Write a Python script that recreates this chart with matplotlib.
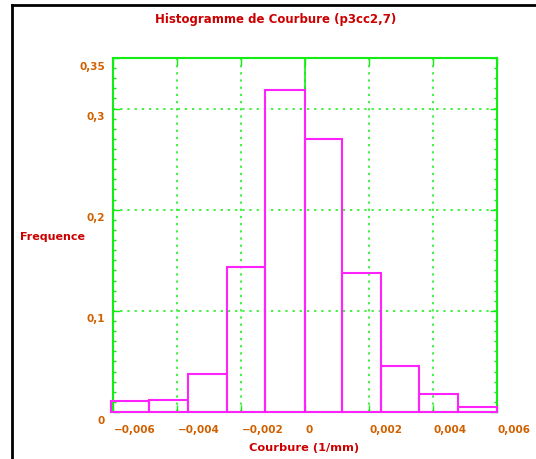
import numpy as np
import matplotlib
matplotlib.use('Agg')
import matplotlib.pyplot as plt
import matplotlib.transforms as mtransforms
from matplotlib.lines import Line2D
from matplotlib.ticker import MultipleLocator

# data
bin_edges = [-0.00607, -0.00486, -0.00366, -0.00245, -0.00125, 0.0,
             0.00116, 0.00237, 0.00357, 0.00478, 0.00599]
freq = [0.0105, 0.0118, 0.0371, 0.143, 0.3187, 0.2702, 0.1377, 0.0456, 0.0177, 0.0046]

xticks = [-0.006, -0.004, -0.002, 0, 0.002, 0.004, 0.006]
xtick_labels = ['\u22120,006', '\u22120,004', '\u22120,002', '0', '0,002', '0,004', '0,006']
yticks = [0, 0.1, 0.2, 0.3, 0.35]
ytick_labels = ['0', '0,1', '0,2', '0,3', '0,35']

green = '#11ee11'
magenta = '#ff22ff'
red = '#cc0000'
orange = '#d06000'

W, H = 536, 459
fig = plt.figure(figsize=(W / 100, H / 100), dpi=100)
ax = fig.add_axes([113 / W, 47 / H, 384 / W, 354 / H])
ax.set_xlim(-0.006, 0.006)
ax.set_ylim(0, 0.35)

for s in ax.spines.values():
    s.set_color(green)
    s.set_linewidth(1.5)

ax.set_xticks(xticks)
ax.set_yticks(yticks)
ax.yaxis.set_minor_locator(MultipleLocator(0.01))
ax.tick_params(which='both', direction='in', top=True, right=True, colors=green,
               labelbottom=False, labelleft=False, width=1)
ax.tick_params(which='major', length=5)
ax.tick_params(which='minor', length=2)

ax.grid(True, color=green, linestyle=(0, (1.5, 3.2)), linewidth=1.1)
ax.axvline(0, color=green, lw=1.2, zorder=2)

edges = np.array(bin_edges)
ax.bar(edges[:-1], freq, width=np.diff(edges), align='edge', facecolor='none',
       edgecolor=magenta, linewidth=1.5, zorder=3, clip_on=False)

fnt = dict(family='DejaVu Sans', fontweight='bold')
for v, lab in zip(xticks, xtick_labels):
    tr = mtransforms.offset_copy(ax.get_xaxis_transform(), fig=fig, x=1, y=-18, units='dots')
    ax.text(v, 0, lab, transform=tr, ha='left', va='center', color=orange, fontsize=7.5, **fnt)
for v, lab in zip(yticks, ytick_labels):
    tr = mtransforms.offset_copy(ax.get_yaxis_transform(), fig=fig, x=-8, y=-8.5, units='dots')
    ax.text(0, v, lab, transform=tr, ha='right', va='center', color=orange, fontsize=7.5, **fnt)

fig.text(276 / W, 1 - 20 / H, 'Histogramme de Courbure (p3cc2,7)', ha='center', va='center',
         color=red, fontsize=8.5, **fnt)
fig.text(20 / W, 1 - 237 / H, 'Frequence', ha='left', va='center', color=red, fontsize=8, **fnt)
fig.text(304 / W, 1 - 448 / H, 'Courbure (1/mm)', ha='center', va='center', color=red,
         fontsize=8.2, **fnt)

# black frame lines on top and left
fig.add_artist(Line2D([12 / W, 12 / W], [0, 1 - 5 / H], transform=fig.transFigure,
                      color='black', lw=2))
fig.add_artist(Line2D([12 / W, 1], [1 - 5 / H, 1 - 5 / H], transform=fig.transFigure,
                      color='black', lw=2))

fig.savefig('out.png', dpi=100)
